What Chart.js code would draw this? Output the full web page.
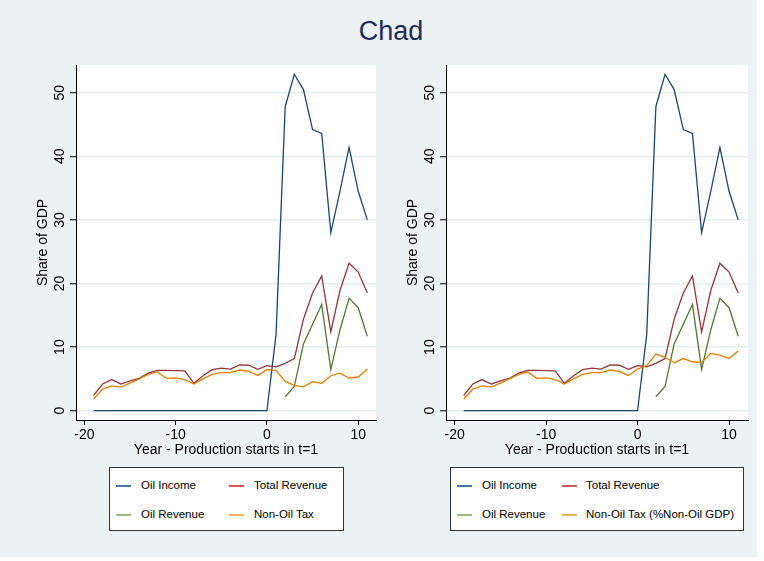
<!DOCTYPE html>
<html>
<head>
<meta charset="utf-8">
<title>Chad</title>
<script src="https://cdn.jsdelivr.net/npm/chart.js@4.4.1/dist/chart.umd.min.js"></script>
<style>
  body { margin: 0; background: #fff; }
  #page { position: relative; width: 764px; height: 561px; overflow: hidden; font-family: 'Liberation Sans', Arial, sans-serif; }
  #bg { position: absolute; left: 0; top: 0; width: 757px; height: 557px; background: #eaf2f3; }
  #title { position: absolute; left: 0; width: 782px; top: 18px; text-align: center; font-size: 27px; line-height: 27px; color: #1e2c5a; }
  canvas { position: absolute; top: 60px; }
  #chartL { left: 0; }
  #chartR { left: 370px; }
  .legend { position: absolute; top: 467px; height: 62px; border: 1px solid #333; background: #fff; box-sizing: content-box; }
  .key { position: absolute; height: 2px; width: 15px; }
  .lbl { position: absolute; font-size: 11.5px; line-height: 11.5px; color: #000; white-space: nowrap; }
</style>
</head>
<body>
<div id="page">
  <div id="bg"></div>
  <div id="title">Chad</div>
  <canvas id="chartL" width="390" height="405"></canvas>
  <canvas id="chartR" width="390" height="405"></canvas>
  <div id="legendL" class="legend" style="left:109px;width:233px;"></div>
  <div id="legendR" class="legend" style="left:450px;width:292px;"></div>
</div>
<script>
// year relative to start of oil production (t=1)
const years = [-19, -18, -17, -16, -15, -14, -13, -12, -11, -10, -9, -8, -7, -6, -5, -4, -3, -2, -1, 0,
  1, 2, 3, 4, 5, 6, 7, 8, 9, 10, 11];

// all as share of GDP
const oilIncome = [0, 0, 0, 0, 0, 0, 0, 0, 0, 0, 0, 0, 0, 0, 0, 0, 0, 0, 0, 0,
  12.0, 47.8, 52.9, 50.5, 44.2, 43.6, 28.0, 34.5, 41.4, 34.5, 30.0];
const totalRevenue = [2.4, 4.2, 4.9, 4.2, 4.7, 5.1, 5.9, 6.35, 6.35, 6.3, 6.25, 4.3, 5.5, 6.45, 6.7, 6.55, 7.2, 7.15, 6.5, 7.1,
  6.9, 7.45, 8.2, 14.4, 18.5, 21.2, 12.4, 18.9, 23.2, 21.8, 18.5];
const oilRevenue = [null, null, null, null, null, null, null, null, null, null, null, null, null, null, null, null, null, null, null, null,
  null, 2.2, 3.8, 10.5, 13.6, 16.7, 6.5, 12.7, 17.7, 16.2, 11.7];
const nonOilTax = [1.85, 3.4, 3.9, 3.7, 4.35, 5.0, 5.7, 6.1, 5.1, 5.15, 4.9, 4.2, 5.0, 5.7, 6.0, 6.0, 6.4, 6.2, 5.55, 6.45,
  6.35, 4.6, 4.0, 3.75, 4.55, 4.3, 5.5, 5.9, 5.15, 5.3, 6.55];
// right panel: non-oil tax as % of non-oil GDP
const nonOilTaxNonOil = [1.85, 3.4, 3.9, 3.7, 4.35, 5.0, 5.7, 6.1, 5.1, 5.15, 4.9, 4.2, 5.0, 5.7, 6.0, 6.0, 6.4, 6.2, 5.55, 6.55,
  7.1, 8.9, 8.4, 7.55, 8.2, 7.7, 7.6, 9.0, 8.75, 8.2, 9.4];

const xTicks = [-20, -10, 0, 10];
const yTicks = [0, 10, 20, 30, 40, 50];

const FONT = "'Liberation Sans', Arial, sans-serif";
const colors = { income: '#1a476f', total: '#90353b', oilRev: '#55752f', tax: '#e37e00' };
const keyColors = { income: '#4a76a0', total: '#cf5a55', oilRev: '#9db787', tax: '#f5b061' };

// white plot region like stata
const plotBg = {
  id: 'plotBg',
  beforeDraw(chart) {
    const { ctx, chartArea: a } = chart;
    ctx.save();
    ctx.fillStyle = '#fff';
    ctx.fillRect(a.left, a.top, a.right - a.left, a.bottom - a.top);
    ctx.restore();
  },
};

function series(vals) {
  return years.map((t, i) => ({ x: t, y: vals[i] }));
}

function makePanel(id, taxVals, padRight, xMin, xMax) {
  const ctx = document.getElementById(id).getContext('2d');
  return new Chart(ctx, {
    type: 'line',
    data: {
      datasets: [
        { label: 'Oil Income', data: series(oilIncome), borderColor: colors.income, order: 4 },
        { label: 'Total Revenue', data: series(totalRevenue), borderColor: colors.total, order: 3 },
        { label: 'Oil Revenue', data: series(oilRevenue), borderColor: colors.oilRev, order: 2 },
        { label: 'Non-Oil Tax', data: series(taxVals), borderColor: colors.tax, order: 1 },
      ],
    },
    options: {
      animation: false,
      responsive: false,
      devicePixelRatio: 1,
      layout: { padding: { left: 0, top: 5, right: padRight, bottom: 0 } },
      elements: {
        point: { radius: 0 },
        line: { borderWidth: 1.3, tension: 0, fill: false },
      },
      plugins: { legend: { display: false }, tooltip: { enabled: false } },
      scales: {
        x: {
          type: 'linear',
          min: xMin,
          max: xMax,
          afterBuildTicks: (s) => { s.ticks = xTicks.map((v) => ({ value: v })); },
          afterFit: (s) => { s.height = 45; s.paddingLeft = 0; s.paddingRight = 0; },
          grid: { drawOnChartArea: false, drawTicks: true, tickLength: 5, tickColor: '#000', color: '#000' },
          border: { display: true, color: '#000', width: 1 },
          ticks: { color: '#000', font: { family: FONT, size: 14 }, padding: 2, maxRotation: 0, autoSkip: false },
          title: {
            display: true, text: 'Year - Production starts in t=1', color: '#000',
            font: { family: FONT, size: 14 }, padding: { top: 0, bottom: 6 },
          },
        },
        y: {
          type: 'linear',
          min: -1.46,
          max: 54.36,
          afterBuildTicks: (s) => { s.ticks = yTicks.map((v) => ({ value: v })); },
          afterFit: (s) => { s.width = 76; s.paddingTop = 0; s.paddingBottom = 0; },
          grid: { color: '#e4edef', lineWidth: 1.5, tickColor: '#000', tickWidth: 1, tickLength: 6 },
          border: { display: true, color: '#000', width: 1 },
          ticks: {
            color: '#000', font: { family: FONT, size: 14 }, minRotation: 90, maxRotation: 90,
            crossAlign: 'center', padding: 2, autoSkip: false,
          },
          title: {
            display: true, text: 'Share of GDP', color: '#000',
            font: { family: FONT, size: 14 }, padding: { top: 35, bottom: 0 },
          },
        },
      },
    },
    plugins: [plotBg],
  });
}

makePanel('chartL', nonOilTax, 14, -20.92, 11.95);
makePanel('chartR', nonOilTaxNonOil, 12, -20.94, 12.07);

// legend boxes (stata style, under each panel)
function buildLegend(boxId, taxLabel, col2Key, col2Text) {
  const box = document.getElementById(boxId);
  const items = [
    { k: 'income', text: 'Oil Income', col: 0, row: 0 },
    { k: 'total', text: 'Total Revenue', col: 1, row: 0 },
    { k: 'oilRev', text: 'Oil Revenue', col: 0, row: 1 },
    { k: 'tax', text: taxLabel, col: 1, row: 1 },
  ];
  items.forEach((it) => {
    const key = document.createElement('div');
    key.className = 'key';
    key.style.left = (it.col === 0 ? 6 : col2Key) + 'px';
    key.style.top = (it.row === 0 ? 16.5 : 45.5) + 'px';
    key.style.background = keyColors[it.k];
    box.appendChild(key);
    const lbl = document.createElement('div');
    lbl.className = 'lbl';
    lbl.style.left = (it.col === 0 ? 31 : col2Text) + 'px';
    lbl.style.top = (it.row === 0 ? 12 : 40.5) + 'px';
    lbl.textContent = it.text;
    box.appendChild(lbl);
  });
}

buildLegend('legendL', 'Non-Oil Tax', 119, 144);
buildLegend('legendR', 'Non-Oil Tax (%Non-Oil GDP)', 111, 135);
</script>
</body>
</html>
